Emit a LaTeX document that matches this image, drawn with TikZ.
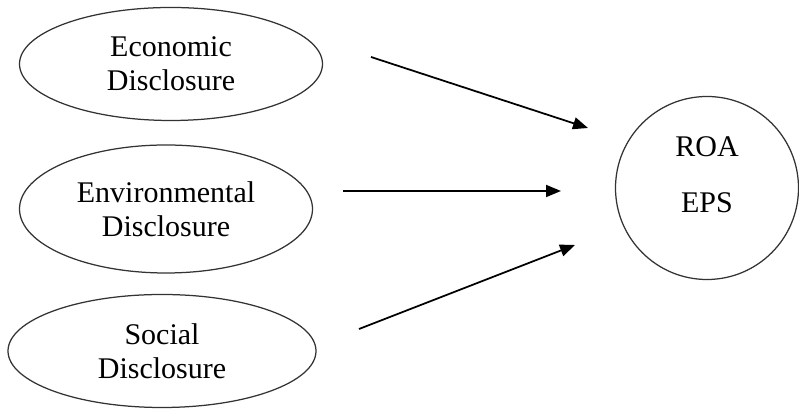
\documentclass[tikz,border=0pt]{standalone}
\usepackage{fontspec}
\setmainfont{Liberation Serif}
\usetikzlibrary{shapes.geometric,arrows.meta}

\tikzset{
  var/.style={draw=black!80,ellipse,line width=0.5pt,inner sep=0pt,align=center,font=\fontsize{12}{13.5}\selectfont},
  link/.style={-{Triangle[length=6pt,width=4.8pt]},line width=0.7pt}
}

\begin{document}
\begin{tikzpicture}[x=0.4pt,y=-0.4pt]
  \useasboundingbox (0,0) rectangle (799,410);
  % three disclosure variables on the left
  \node[var,minimum width=121.2pt,minimum height=45.2pt] (econ) at (171,64) {Economic\\Disclosure};
  \node[var,minimum width=117.2pt,minimum height=51.2pt] (env) at (166,209) {Environmental\\Disclosure};
  \node[var,minimum width=123.2pt,minimum height=45.2pt] (soc) at (162,351) {Social\\Disclosure};
  % the performance measures
  \node[var,circle,minimum size=73.2pt] (perf) at (707,188) {};
  \node[align=center,font=\fontsize{12}{13.5}\selectfont] (perftxt) at (707,175) {ROA\\[9pt]EPS};
  % free-standing arrows between them
  \coordinate (econ-out) at (371,57);
  \coordinate (econ-in) at (588,128);
  \coordinate (env-out) at (343,191);
  \coordinate (env-in) at (561,191);
  \coordinate (soc-out) at (359,329);
  \coordinate (soc-in) at (575,245);
  \draw[link] (econ-out) -- (econ-in);
  \draw[link] (env-out) -- (env-in);
  \draw[link] (soc-out) -- (soc-in);
\end{tikzpicture}
\end{document}
